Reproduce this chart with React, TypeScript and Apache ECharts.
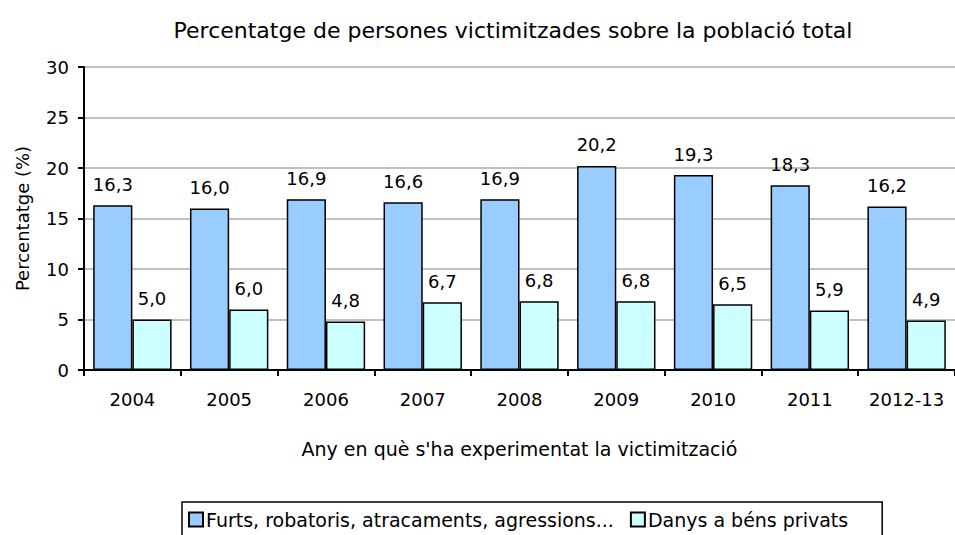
import React, { useEffect, useRef } from "react";
import * as echarts from "echarts";

const categories = ["2004", "2005", "2006", "2007", "2008", "2009", "2010", "2011", "2012-13"];
const seriesNames = ["Furts, robatoris, atracaments, agressions...", "Danys a béns privats"];
const furts = [16.3, 16.0, 16.9, 16.6, 16.9, 20.2, 19.3, 18.3, 16.2];
const danys = [5.0, 6.0, 4.8, 6.7, 6.8, 6.8, 6.5, 5.9, 4.9];
const yTicks = { min: 0, max: 30, interval: 5 };

const FONT = "DejaVu Sans";

export default function App() {
  const ref = useRef<HTMLDivElement>(null);
  useEffect(() => {
    if (!ref.current) return;
    const chart = echarts.init(ref.current, null, { renderer: "svg" });
    const fmt = (p: any) => Number(p.value).toFixed(1).replace(".", ",");
    const label = {
      show: true,
      position: "top" as const,
      distance: 12,
      color: "#000",
      fontFamily: FONT,
      fontSize: 18,
      formatter: fmt,
    };
    chart.setOption({
      animation: false,
      backgroundColor: "#fff",
      textStyle: { fontFamily: FONT, color: "#000" },
      title: {
        text: "Percentatge de persones victimitzades sobre la població total",
        left: 508,
        top: 14,
        textAlign: "center",
        textStyle: { fontFamily: FONT, fontSize: 22, fontWeight: "normal", color: "#000" },
      },
      legend: {
        left: 182,
        top: 502,
        padding: [8, 34, 16, 6],
        itemGap: 16,
        itemWidth: 14,
        itemHeight: 14,
        icon: "rect",
        borderColor: "#000",
        borderWidth: 1.5,
        textStyle: { fontFamily: FONT, fontSize: 19, color: "#000", padding: [0, 0, 0, -2] },
        data: seriesNames,
      },
      grid: { left: 84, top: 67, width: 873, height: 303, containLabel: false },
      xAxis: {
        type: "category",
        data: categories,
        name: "Any en què s'ha experimentat la victimització",
        nameLocation: "middle",
        nameGap: 69,
        nameTextStyle: { fontFamily: FONT, fontSize: 19, color: "#000" },
        axisLine: { lineStyle: { color: "#000", width: 2 } },
        axisTick: { show: true, interval: 0, length: 6, lineStyle: { color: "#000", width: 2 } },
        axisLabel: { interval: 0, fontFamily: FONT, fontSize: 18, color: "#000", margin: 20 },
      },
      yAxis: {
        type: "value",
        min: yTicks.min,
        max: yTicks.max,
        interval: yTicks.interval,
        name: "Percentatge (%)",
        nameLocation: "middle",
        nameGap: 53,
        nameTextStyle: { fontFamily: FONT, fontSize: 18, color: "#000" },
        axisLine: { show: true, lineStyle: { color: "#000", width: 2 } },
        axisTick: { show: true, length: 6, lineStyle: { color: "#000", width: 2 } },
        axisLabel: { fontFamily: FONT, fontSize: 18, color: "#000", margin: 15 },
        splitLine: { show: true, lineStyle: { color: "#c0c0c0", width: 2 } },
      },
      series: [
        {
          name: seriesNames[0],
          type: "bar",
          data: furts,
          barGap: "0%",
          barCategoryGap: "19%",
          itemStyle: { color: "#99CCFF", borderColor: "#000", borderWidth: 1.5 },
          label,
        },
        {
          name: seriesNames[1],
          type: "bar",
          data: danys,
          itemStyle: { color: "#CCFFFF", borderColor: "#000", borderWidth: 1.5 },
          label,
        },
      ],
    });
    return () => chart.dispose();
  }, []);
  return (
    <div
      ref={ref}
      style={{ position: "absolute", left: 0, top: 0, width: 955, height: 535 }}
    />
  );
}
